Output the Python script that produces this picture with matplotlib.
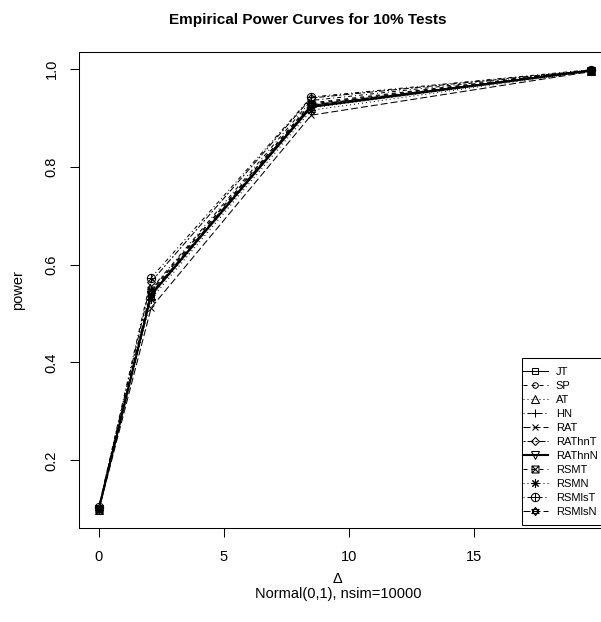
import numpy as np
import matplotlib
matplotlib.use("Agg")
import matplotlib.pyplot as plt
from matplotlib.path import Path
from matplotlib.patches import Rectangle

plt.rcParams['font.family'] = ['Liberation Sans', 'DejaVu Sans']
plt.rcParams['lines.scale_dashes'] = False

# ---- data ----
delta = [0.0, 2.1, 8.5, 19.7]
labels = ["JT", "SP", "AT", "HN", "RAT", "RAThnT", "RAThnN", "RSMT", "RSMN", "RSMlsT", "RSMlsN"]
JT     = [0.100, 0.540, 0.925, 0.996]
SP     = [0.101, 0.545, 0.930, 0.997]
AT     = [0.099, 0.535, 0.920, 0.995]
HN     = [0.102, 0.550, 0.935, 0.997]
RAT    = [0.098, 0.512, 0.905, 0.994]
RAThnT = [0.103, 0.565, 0.940, 0.997]
RAThnN = [0.100, 0.538, 0.922, 0.996]
RSMT   = [0.101, 0.548, 0.928, 0.996]
RSMN   = [0.099, 0.530, 0.915, 0.995]
RSMlsT = [0.104, 0.573, 0.942, 0.998]
RSMlsN = [0.100, 0.542, 0.926, 0.996]
series = [JT, SP, AT, HN, RAT, RAThnT, RAThnN, RSMT, RSMN, RSMlsT, RSMlsN]

# ---- custom R-like markers ----
def sq_x():
    sq = Path([(-1,-1),(1,-1),(1,1),(-1,1),(-1,-1)], [1,2,2,2,79])
    x = Path([(-1,-1),(1,1),(-1,1),(1,-1)], [1,2,1,2])
    return Path.make_compound_path(sq, x)

def circ_plus():
    c = Path.unit_circle()
    p = Path([(-1,0),(1,0),(0,-1),(0,1)], [1,2,1,2])
    return Path.make_compound_path(c, p)

def star_david():
    t1 = Path([(0,1),(0.866,-0.5),(-0.866,-0.5),(0,1)], [1,2,2,79])
    t2 = Path([(0,-1),(0.866,0.5),(-0.866,0.5),(0,-1)], [1,2,2,79])
    return Path.make_compound_path(t1, t2)

px = 0.72  # one pixel in points
solid = '-'
dashed = (0, (4*px, 4*px))
dotted = (0, (1*px, 3*px))
dotdash = (0, (1*px, 3*px, 4*px, 3*px))
longdash = (0, (7*px, 3*px))
twodash = (0, (2*px, 2*px, 6*px, 2*px))
ltys = [solid, dashed, dotted, dotdash, longdash, twodash, solid, dashed, dotted, dotdash, longdash]
markers = ['s', 'o', '^', '+', 'x', 'D', 'v', sq_x(), (8, 2, 0), circ_plus(), star_david()]
msizes = [5, 4, 5.5, 6, 5, 4.5, 5.5, 5, 6, 6, 6]
lws = [0.75]*11
lws[6] = 1.5

W, H = 601, 622
fig = plt.figure(figsize=(W/100, H/100), dpi=100)
L, R_, T, B = 79, 611, 52, 528
ax = fig.add_axes([L/W, 1 - B/H, (R_-L)/W, (B-T)/H])

for y, lab, ls, mk, ms, lw in zip(series, labels, ltys, markers, msizes, lws):
    ax.plot(delta, y, color='black', linestyle=ls, linewidth=lw, marker=mk,
            markersize=ms, markerfacecolor='none', markeredgecolor='black',
            markeredgewidth=0.75, label=lab)

allv = np.concatenate([np.array(s) for s in series])
ymin, ymax = allv.min(), allv.max()
yr = ymax - ymin
ax.set_ylim(ymin - 0.04*yr, ymax + 0.04*yr)
xr = max(delta) - min(delta)
ax.set_xlim(min(delta) - 0.04*xr, max(delta) + 0.04*xr)

ax.set_xticks([0, 5, 10, 15])
ax.set_yticks([0.2, 0.4, 0.6, 0.8, 1.0])
ax.set_yticklabels(["0.2", "0.4", "0.6", "0.8", "1.0"], rotation=90, va='center')
ax.tick_params(axis='both', direction='out', length=6.5, width=0.75, labelsize=10.5, pad=9)
ax.tick_params(axis='y', pad=8)
for s in ax.spines.values():
    s.set_linewidth(0.75)

# legend (content) + separate frame like R's legend box
leg = ax.legend(loc='upper left', bbox_to_anchor=(522/W, 1 - 366/H),
                bbox_transform=fig.transFigure, fontsize=8,
                frameon=False, handlelength=2.2, handletextpad=0.75,
                labelspacing=0.36, borderpad=0.1, borderaxespad=0)
frame = Rectangle((522/W, 1 - 525/H), (620-522)/W, (525-358)/H,
                  transform=fig.transFigure, fill=True, facecolor='white',
                  edgecolor='black', linewidth=0.75, zorder=4)
fig.add_artist(frame)
leg.set_zorder(5)
fig.add_artist(leg)

fig.text(308/W, 1 - 20/H, "Empirical Power Curves for 10% Tests", ha='center', va='center',
         fontsize=11, fontweight='bold')
fig.text(18/W, 1 - 290/H, "power", rotation=90, ha='center', va='center', fontsize=10.5)
fig.text(338/W, 1 - 579/H, "Δ", ha='center', va='center', fontsize=10.5)
fig.text(338/W, 1 - 594/H, "Normal(0,1), nsim=10000", ha='center', va='center', fontsize=10.5)

fig.savefig("out.png", dpi=100)
